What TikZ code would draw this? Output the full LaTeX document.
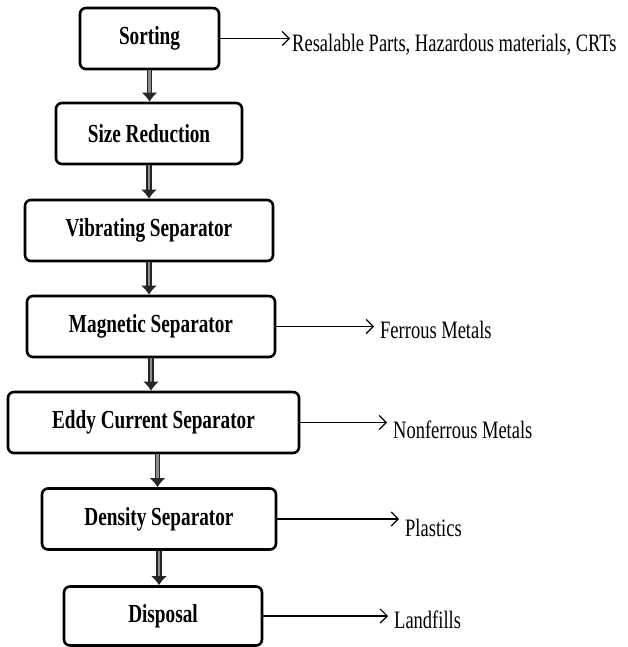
\documentclass[tikz,border=0pt]{standalone}
\usepackage{fontspec}
\setmainfont{Liberation Serif}[FakeStretch=0.74]
\usetikzlibrary{positioning, arrows.meta}

\begin{document}
\begin{tikzpicture}[x=1pt, y=-1pt,
    every node/.style={font=\fontsize{25}{29}\selectfont},
    stage/.style={draw, line width=2.6pt, rounded corners=6pt, minimum height=61pt, inner sep=0pt, font=\fontsize{26}{30}\selectfont\bfseries},
    flow/.style={draw=black!85, double=black!45, double distance=2.2pt, line width=1.6pt, -{Latex[length=9pt, width=16pt]}},
    outlet/.style={line width=1.2pt, -{Straight Barb[length=7pt, width=14pt]}},
    product/.style={anchor=base west, inner xsep=6pt, inner ysep=0pt}]
  \useasboundingbox (0,0) rectangle (627,647);

  % process chain
  \node[stage, minimum width=139pt] (sort) at (149.5,38.5) {Sorting};
  \node[stage, minimum width=186pt] (size) at (149,133.5) {Size Reduction};
  \node[stage, minimum width=248pt] (vib) at (149,230.5) {Vibrating Separator};
  \node[stage, minimum width=248pt] (mag) at (151,326.5) {Magnetic Separator};
  \node[stage, minimum width=291pt] (eddy) at (153.5,422.5) {Eddy Current Separator};
  \node[stage, minimum width=234pt] (dens) at (159,519) {Density Separator};
  \node[stage, minimum width=198pt, minimum height=59pt] (disp) at (163,616) {Disposal};

  \draw[flow] (sort.south) -- (sort.south |- size.north);
  \draw[flow] (size.south) -- (size.south |- vib.north);
  \draw[flow] (vib.south) -- (vib.south |- mag.north);
  \draw[flow] (mag.south) -- (mag.south |- eddy.north);
  \draw[flow] ([xshift=4pt]eddy.south) -- ([xshift=4pt]eddy.south |- dens.north);
  \draw[flow] (dens.south) -- (dens.south |- disp.north);

  % recovered streams
  \node[product, inner xsep=2pt] (resale) at (290,52) {Resalable Parts, Hazardous materials, CRTs};
  \node[product] (ferrous) at (374,338) {Ferrous Metals};
  \node[product] (nonferrous) at (387,438) {Nonferrous Metals};
  \node[product] (plastics) at (399,536) {Plastics};
  \node[product] (landfills) at (388,628) {Landfills};

  \draw[outlet] (sort.east) -- (sort.east -| resale.west);
  \draw[outlet] (mag.east) -- (mag.east -| ferrous.west);
  \draw[outlet] (eddy.east) -- (eddy.east -| nonferrous.west);
  \draw[outlet] (dens.east) -- (dens.east -| plastics.west);
  \draw[outlet] (disp.east) -- (disp.east -| landfills.west);
\end{tikzpicture}
\end{document}
